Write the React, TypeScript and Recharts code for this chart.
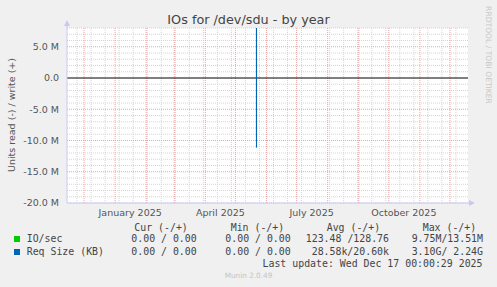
import { CartesianGrid, Line, LineChart, ReferenceLine, XAxis, YAxis } from "recharts";

// day offsets from 1 Jan 2025; series are unknown (null) outside the spike
const days = [-48, 141, 141, 141, 352];
const ioRead = [null, 0, -9.75e6, 0, null];
const ioWrite = [null, 0, 13.51e6, 0, null];
const reqRead = [null, 0, -11.1e6, 0, null];
const reqWrite = [null, 0, 13.5e6, 0, null];

const labelDays = [15, 105, 196, 288];
const labelNames = ["January 2025", "April 2025", "July 2025", "October 2025"];
const monthDays = [-31, 0, 31, 59, 90, 120, 151, 181, 212, 243, 273, 304, 334];
const minorDays = [
  -38, -24, -10, 4, 18, 32, 46, 60, 74, 88, 102, 116, 130, 144, 158, 172, 186, 200, 214, 228, 242, 256, 270, 284,
  298, 312, 326, 340,
];
const yTicks = [-20e6, -15e6, -10e6, -5e6, 0, 5e6];
const yMinor = [
  -20e6, -19e6, -18e6, -17e6, -16e6, -14e6, -13e6, -12e6, -11e6, -9e6, -8e6, -7e6, -6e6, -4e6, -3e6, -2e6, -1e6,
  1e6, 2e6, 3e6, 4e6, 6e6, 7e6, 8e6,
];
const yMajor = [-15e6, -10e6, -5e6, 5e6];

const legendNames = ["IO/sec", "Req Size (KB)"];
const legendColors = ["#00cc00", "#0066b3"];
const curText = ["0.00 / 0.00", "0.00 / 0.00"];
const minText = ["0.00 / 0.00", "0.00 / 0.00"];
const avgText = ["123.48 /128.76", "28.58k/20.60k"];
const maxText = ["9.75M/13.51M", "3.10G/ 2.24G"];

const data = days.map((d, i) => ({
  day: d,
  ioRead: ioRead[i],
  ioWrite: ioWrite[i],
  reqRead: reqRead[i],
  reqWrite: reqWrite[i],
}));

const AXIS = "#c8c8f4";
const mono = "'DejaVu Sans Mono', monospace";

function fmtY(v: number) {
  if (v === 0) return "0.0";
  return `${(v / 1e6).toFixed(1)} M`;
}

function XTick(props: any) {
  const { x, y, payload } = props;
  const idx = labelDays.indexOf(payload.value);
  return (
    <text x={x} y={y} dy={12.7} textAnchor="middle" fontSize={9.5} fill="#555">
      {labelNames[idx]}
    </text>
  );
}

const cell = (left: number, top: number, text: string, right = false) => (
  <div
    style={{
      position: "absolute",
      top,
      left: right ? undefined : left,
      right: right ? 497 - left : undefined,
      fontFamily: mono,
      fontSize: 9.9,
      lineHeight: "12px",
      color: "#444",
      whiteSpace: "pre",
    }}
  >
    {text}
  </div>
);

export default function App() {
  return (
    <div
      style={{
        position: "absolute",
        left: 0,
        top: 0,
        width: 497,
        height: 287,
        background: "#f0f0f0",
        overflow: "hidden",
        fontFamily: "'DejaVu Sans', sans-serif",
      }}
    >
      <div
        style={{
          position: "absolute",
          top: 11,
          left: 0,
          width: 497,
          textAlign: "center",
          fontSize: 12.8,
          lineHeight: "17px",
          color: "#444",
        }}
      >
        IOs for /dev/sdu - by year
      </div>
      <div
        style={{
          position: "absolute",
          left: 11,
          top: 115,
          transform: "translate(-50%, -50%) rotate(-90deg)",
          fontSize: 9.5,
          color: "#555",
          whiteSpace: "nowrap",
        }}
      >
        Units read (-) / write (+)
      </div>
      <div
        style={{
          position: "absolute",
          left: 488,
          top: 55,
          transform: "translate(-50%, -50%) rotate(90deg)",
          fontSize: 7.6,
          lineHeight: "9px",
          color: "#c8c8c8",
          whiteSpace: "nowrap",
        }}
      >
        RRDTOOL / TOBI OETIKER
      </div>

      <div style={{ position: "absolute", left: 0, top: 0 }}>
        <LineChart width={497} height={220} data={data} margin={{ top: 28, right: 29, bottom: 0, left: 0 }}>
          <CartesianGrid
            fill="#ffffff"
            fillOpacity={1}
            stroke="#d4d4d4"
            strokeDasharray="1 1"
            horizontalValues={yMinor}
            verticalValues={minorDays}
          />
          <CartesianGrid
            stroke="#e8a6a6"
            strokeDasharray="1 1"
            horizontalValues={yMajor}
            verticalValues={monthDays}
          />
          <ReferenceLine y={0} stroke="#000" strokeWidth={1} />
          <XAxis
            type="number"
            dataKey="day"
            domain={[-48, 352]}
            allowDataOverflow
            ticks={labelDays}
            interval={0}
            height={17}
            tickSize={0}
            tickMargin={0}
            tickLine={false}
            axisLine={{ stroke: AXIS }}
            tick={<XTick />}
          />
          <YAxis
            type="number"
            domain={[-20e6, 8e6]}
            allowDataOverflow
            ticks={yTicks}
            interval={0}
            width={67}
            tickSize={0}
            tickMargin={8}
            tickLine={false}
            axisLine={{ stroke: AXIS }}
            tickFormatter={fmtY}
            tick={{ fontSize: 9.5, fill: "#555" }}
          />
          <Line dataKey="ioRead" stroke="#00cc00" strokeWidth={1} dot={false} isAnimationActive={false} />
          <Line dataKey="ioWrite" stroke="#00cc00" strokeWidth={1} dot={false} isAnimationActive={false} />
          <Line dataKey="reqRead" stroke="#0066b3" strokeWidth={1} dot={false} isAnimationActive={false} />
          <Line dataKey="reqWrite" stroke="#0066b3" strokeWidth={1} dot={false} isAnimationActive={false} />
        </LineChart>
      </div>

      <svg width={497} height={287} style={{ position: "absolute", left: 0, top: 0, pointerEvents: "none" }}>
        <line x1={67} y1={28} x2={67} y2={23} stroke={AXIS} />
        <polygon points="64,26 70,26 67,20" fill={AXIS} />
        <line x1={468} y1={203} x2={472} y2={203} stroke={AXIS} />
        <polygon points="469,200 469,206 475,203" fill={AXIS} />
      </svg>

      {cell(134.3, 221.5, "Cur (-/+)")}
      {cell(230.7, 221.5, "Min (-/+)")}
      {cell(326.7, 221.5, "Avg (-/+)")}
      {cell(422.7, 221.5, "Max (-/+)")}
      {legendNames.map((name, i) => {
        const top = 233.3 + i * 12.4;
        return (
          <div key={name}>
            <div
              style={{
                position: "absolute",
                left: 14,
                top: top + 3,
                width: 6,
                height: 6,
                background: legendColors[i],
              }}
            />
            {cell(26.7, top, name)}
            {cell(196.7, top, curText[i], true)}
            {cell(290.7, top, minText[i], true)}
            {cell(389, top, avgText[i], true)}
            {cell(483, top, maxText[i], true)}
          </div>
        );
      })}
      {cell(482.5, 258, "Last update: Wed Dec 17 00:00:29 2025", true)}
      <div
        style={{
          position: "absolute",
          top: 271,
          left: 0,
          width: 497,
          textAlign: "center",
          fontSize: 7.3,
          lineHeight: "10px",
          color: "#c4c4c4",
        }}
      >
        Munin 2.0.49
      </div>
    </div>
  );
}
